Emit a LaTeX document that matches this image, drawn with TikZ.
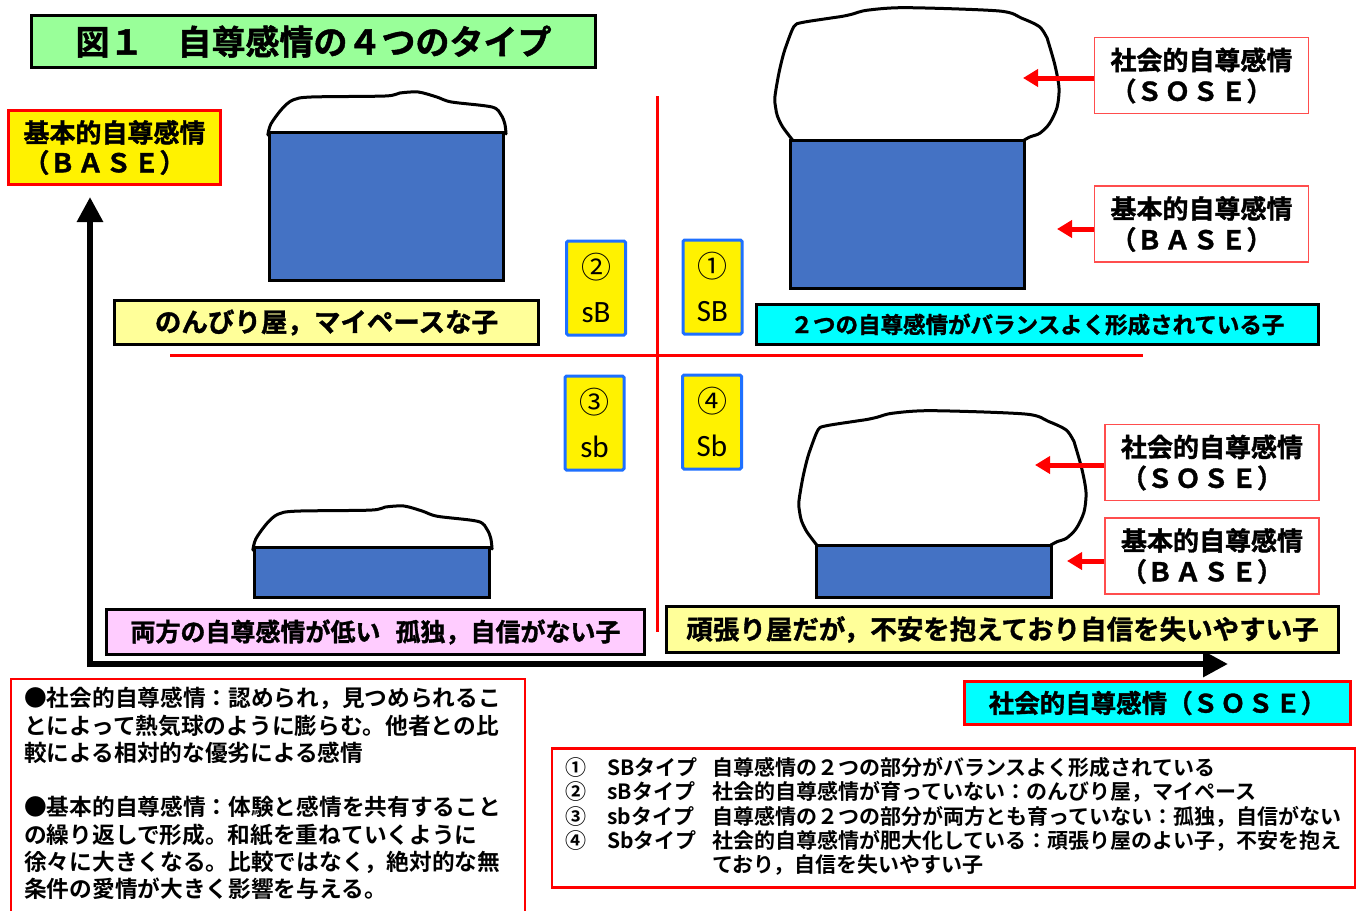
\documentclass[tikz,border=0pt]{standalone}
\usepackage{fontspec}
\setmainfont{Noto Sans CJK JP}[BoldFont=* Bold]
\newfontfamily\heavyfont{Noto Sans CJK JP}[UprightFont=* Bold,FakeBold=1.3]
\newfontfamily\calibfont{Carlito}
\usetikzlibrary{arrows.meta}
\definecolor{tgreen}{HTML}{99FF99}
\definecolor{lyel}{HTML}{FFFF99}
\definecolor{cyanx}{HTML}{00FFFF}
\definecolor{pinkx}{HTML}{FFCCFF}
\definecolor{bluerect}{HTML}{4472C4}
\definecolor{tblue}{HTML}{1E70FF}
\definecolor{redx}{HTML}{FF0000}
\definecolor{lred}{HTML}{FF4D4D}
\newcommand\jpfs[2]{\fontsize{#1}{#2}\selectfont}
\newcommand\lsp{\hspace{2pt}}
\newcommand\blobcloud[4]{%
  \begin{scope}[shift={(#1,#2)},xscale=#3,yscale=#4]
  \draw[cloudline] plot[smooth,tension=0.5] coordinates {(0.065,1.0) (0.03,0.9) (0.012,0.82) (0.006,0.76) (0.003,0.68) (0.016,0.51) (0.03,0.38) (0.043,0.29) (0.07,0.146) (0.098,0.117) (0.193,0.085) (0.24,0.07) (0.274,0.054) (0.328,0.024) (0.464,0.005) (0.79,0.03) (0.87,0.085) (0.93,0.146) (0.955,0.22) (0.962,0.26) (0.986,0.44) (1.0,0.61) (0.993,0.756) (0.966,0.878) (0.932,0.95) (0.9,0.975) (0.878,1.0)};
  \end{scope}}
\newcommand\flatcap[4]{%
  \begin{scope}[shift={(#1,#2)},xscale=#3,yscale=#4]
  \draw[cloudline] plot[smooth,tension=0.5] coordinates {(-0.005,0.075) (0.008,-0.2) (0.055,-0.575) (0.102,-0.8) (0.181,-0.875) (0.496,-0.9) (0.559,-0.975) (0.638,-1.0) (0.717,-0.875) (0.78,-0.75) (0.953,-0.625) (0.992,-0.425) (1.008,-0.2) (1.013,0.05)};
  \end{scope}}
\begin{document}
\begin{tikzpicture}[x=1pt,y=-1pt,
  lab/.style={draw=black,line width=3pt,inner sep=0pt,font=\heavyfont\jpfs{26}{30}},
  side/.style={draw=lred,line width=1.5pt,fill=white,inner sep=0pt,minimum width=214pt,minimum height=76pt,align=left,font=\heavyfont\jpfs{26}{31}},
  tbox/.style={draw=tblue,fill=yellow,line width=3pt,rounded corners=1.5pt,minimum width=59pt,minimum height=94pt,inner sep=0pt,align=center,font=\jpfs{30}{44}},
  basebox/.style={fill=bluerect,draw=black,line width=3pt},
  cloudline/.style={draw=black,line width=3pt,line join=round,line cap=round},
  redline/.style={draw=redx,line width=3pt},
  axisarrow/.style={draw=black,line width=6pt,-{Triangle[length=25pt,width=25pt]}},
  rarrow/.style={draw=redx,line width=5pt,-{Triangle[length=15pt,width=17pt]}}]
\useasboundingbox (0,0) rectangle (1362,910);
\fill[white] (0,0) rectangle (1362,910);

% axes
\coordinate (yo) at (90,667); \coordinate (ytip) at (90,197);
\coordinate (xo) at (87,664); \coordinate (xtip) at (1228,664);
\draw[axisarrow] (yo) -- (ytip);
\draw[axisarrow] (xo) -- (xtip);

% red cross
\coordinate (vt) at (657,96); \coordinate (vb) at (657,632);
\coordinate (hl) at (170,355); \coordinate (hr) at (1143,355);
\draw[redline] (vt) -- (vb);
\draw[redline] (hl) -- (hr);

% clouds and bases
\blobcloud{774}{7}{285}{133}
\draw[basebox] (790,140) rectangle (1024,288);
\blobcloud{798}{410}{288}{135}
\draw[basebox] (816,545) rectangle (1051,597);
\flatcap{269}{132}{234}{40}
\draw[basebox] (269,132) rectangle (503,280);
\flatcap{254}{547}{235}{41}
\draw[basebox] (254,547) rectangle (489,597);

% title
\node[lab,fill=tgreen,minimum width=564pt,minimum height=52pt,font=\heavyfont\jpfs{34}{40}] (title) at (313.5,41.5) {図１　自尊感情の４つのタイプ};

% axis labels
\node[lab,draw=redx,line width=3.5pt,fill=yellow,minimum width=212pt,minimum height=74pt,align=left,font=\heavyfont\jpfs{26}{30}] (baseaxis) at (114.5,147.5) {基本的自尊感情\\（Ｂ\lsp Ａ\lsp Ｓ\lsp Ｅ）};
\node[lab,draw=redx,line width=3.5pt,fill=cyanx,minimum width=386pt,minimum height=43pt,font=\heavyfont\jpfs{25.5}{30}] (soseaxis) at (1157.5,703) {社会的自尊感情（Ｓ\lsp Ｏ\lsp Ｓ\lsp Ｅ）};

% quadrant labels
\node[lab,fill=lyel,minimum width=424pt,minimum height=44pt,font=\heavyfont\jpfs{26.5}{30}] (q2lab) at (326.5,322.5) {のんびり屋，マイペースな子};
\node[lab,fill=cyanx,minimum width=562pt,minimum height=40pt,font=\heavyfont\jpfs{22.5}{26}] (q1lab) at (1037.5,324.5) {２つの自尊感情がバランスよく形成されている子};
\node[lab,fill=pinkx,minimum width=538pt,minimum height=45pt,font=\heavyfont\jpfs{25}{30}] (q3lab) at (375.5,632) {両方の自尊感情が低い\hspace{0.6em}孤独，自信がない子};
\node[lab,fill=lyel,minimum width=672pt,minimum height=46pt,font=\heavyfont\jpfs{26.5}{30}] (q4lab) at (1002.5,629.5) {頑張り屋だが，不安を抱えており自信を失いやすい子};

% type boxes
\node[tbox] (t2) at (596,288) {②\\{\calibfont\jpfs{31}{44}sB}};
\node[tbox] (t1) at (712.5,287) {①\\{\calibfont\jpfs{31}{44}SB}};
\node[tbox] (t3) at (594.5,423) {③\\{\calibfont\jpfs{31}{44}sb}};
\node[tbox] (t4) at (712,422) {④\\{\calibfont\jpfs{31}{44}Sb}};

% side labels and arrows
\node[side] (s1) at (1201.5,75.5) {社会的自尊感情\\（Ｓ\lsp Ｏ\lsp Ｓ\lsp Ｅ）};
\node[side] (b1) at (1201.5,224) {基本的自尊感情\\（Ｂ\lsp Ａ\lsp Ｓ\lsp Ｅ）};
\node[side] (s4) at (1212,462.5) {社会的自尊感情\\（Ｓ\lsp Ｏ\lsp Ｓ\lsp Ｅ）};
\node[side] (b4) at (1212,556) {基本的自尊感情\\（Ｂ\lsp Ａ\lsp Ｓ\lsp Ｅ）};
\coordinate (t1s) at (1023,78);
\coordinate (t1b) at (1057,229);
\coordinate (t4s) at (1035,465);
\coordinate (t4b) at (1067,561);
\draw[rarrow] (s1.west |- t1s) -- (t1s);
\draw[rarrow] (b1.west |- t1b) -- (t1b);
\draw[rarrow] (s4.west |- t4s) -- (t4s);
\draw[rarrow] (b4.west |- t4b) -- (t4b);

% bottom-left note
\node[draw=redx,line width=2pt,anchor=north west,minimum width=514pt,minimum height=240pt,inner sep=0pt] (notebox) at (10,678) {};
\node[anchor=north west,inner sep=0pt,align=left,font=\bfseries\jpfs{22.7}{27.3}] (note) at ([shift={(14,9)}]notebox.north west) {●社会的自尊感情：認められ，見つめられるこ\\とによって熱気球のように膨らむ。他者との比\\較による相対的な優劣による感情\\~\\●基本的自尊感情：体験と感情を共有すること\\の繰り返しで形成。和紙を重ねていくように\\徐々に大きくなる。比較ではなく，絶対的な無\\条件の愛情が大きく影響を与える。};

% bottom-right type list
\node[draw=redx,line width=2.5pt,minimum width=803pt,minimum height=139pt,inner sep=0pt,font=\bfseries\jpfs{21}{21}] (types) at (953.5,818) {\begin{tabular}{@{}p{42pt}@{}p{105pt}@{}l@{}}
①&SBタイプ&自尊感情の２つの部分がバランスよく形成されている\\
②&sBタイプ&社会的自尊感情が育っていない：のんびり屋，マイペース\\
③&sbタイプ&自尊感情の２つの部分が両方とも育っていない：孤独，自信がない\\
④&Sbタイプ&社会的自尊感情が肥大化している：頑張り屋のよい子，不安を抱え\\
&&ており，自信を失いやすい子
\end{tabular}};
\end{tikzpicture}
\end{document}
